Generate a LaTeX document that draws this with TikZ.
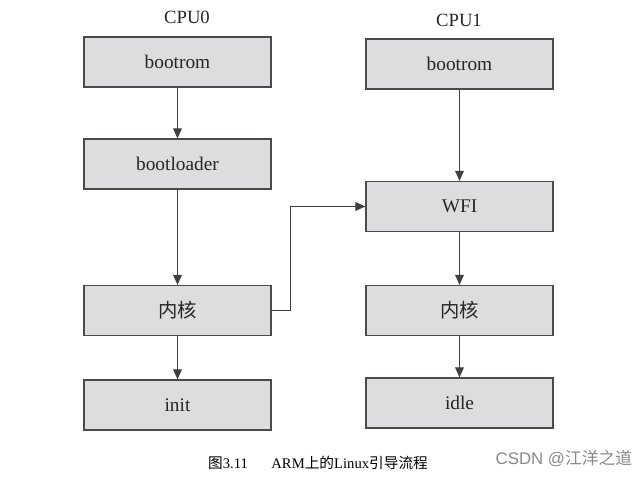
\documentclass[tikz,border=0pt]{standalone}
\usepackage{fontspec}
\setmainfont{Liberation Serif}
\newfontfamily\cjk{Noto Sans CJK SC}
\newfontfamily\wmfont{Liberation Sans}
\usetikzlibrary{arrows.meta}
\definecolor{boxfill}{HTML}{DCDDDE}
\definecolor{boxline}{HTML}{4A4A4A}
\definecolor{wmgray}{HTML}{8A8A8A}
\tikzset{
  stepbox/.style={draw=boxline, line width=0.9pt, fill=boxfill, text=black!85, minimum width=187*0.75pt, minimum height=50*0.75pt, inner sep=0pt, font=\rmfamily\fontsize{14.5}{16}\selectfont},
  flow/.style={draw=black!75, line width=0.8pt, -{Triangle[length=7.5pt,width=6.5pt]}},
  cpulabel/.style={text=black!85, font=\rmfamily\fontsize{14}{16}\selectfont}
}
\begin{document}
\begin{tikzpicture}[x=0.75pt,y=-0.75pt]
\useasboundingbox (0,0) rectangle (644,479);
\fill[white] (0,0) rectangle (644,479);
\node[cpulabel] (c0) at (187,17) {CPU0};
\node[cpulabel] (c1) at (459,20) {CPU1};
\node[stepbox] (b0) at (177.5,62) {bootrom};
\node[stepbox] (bl) at (177.5,164) {bootloader};
\node[stepbox] (k0) at (177.5,310.5) {\cjk 内核};
\node[stepbox] (i0) at (177.5,405) {init};
\node[stepbox] (b1) at (459.5,64) {bootrom};
\node[stepbox] (w1) at (459.5,206.5) {WFI};
\node[stepbox] (k1) at (459.5,310.5) {\cjk 内核};
\node[stepbox] (d1) at (459.5,403) {idle};
\draw[flow] (b0) -- (bl);
\draw[flow] (bl) -- (k0);
\draw[flow] (k0) -- (i0);
\draw[flow] (b1) -- (w1);
\draw[flow] (w1) -- (k1);
\draw[flow] (k1) -- (d1);
\coordinate (e1) at (290.5,310.5);
\coordinate (e2) at (290.5,206.5);
\draw[flow] (k0.east) -- (e1) -- (e2) -- (w1.west);
\node[font=\rmfamily\fontsize{11}{13}\selectfont] (cap) at (318,463) {{\cjk 图}3.11\hspace{1.6em}ARM{\cjk 上的}Linux{\cjk 引导流程}};
\node[font=\wmfont\fontsize{12.6}{14}\selectfont, text=wmgray] (wm) at (564,459) {CSDN @{\cjk 江洋之道}};
\end{tikzpicture}
\end{document}
